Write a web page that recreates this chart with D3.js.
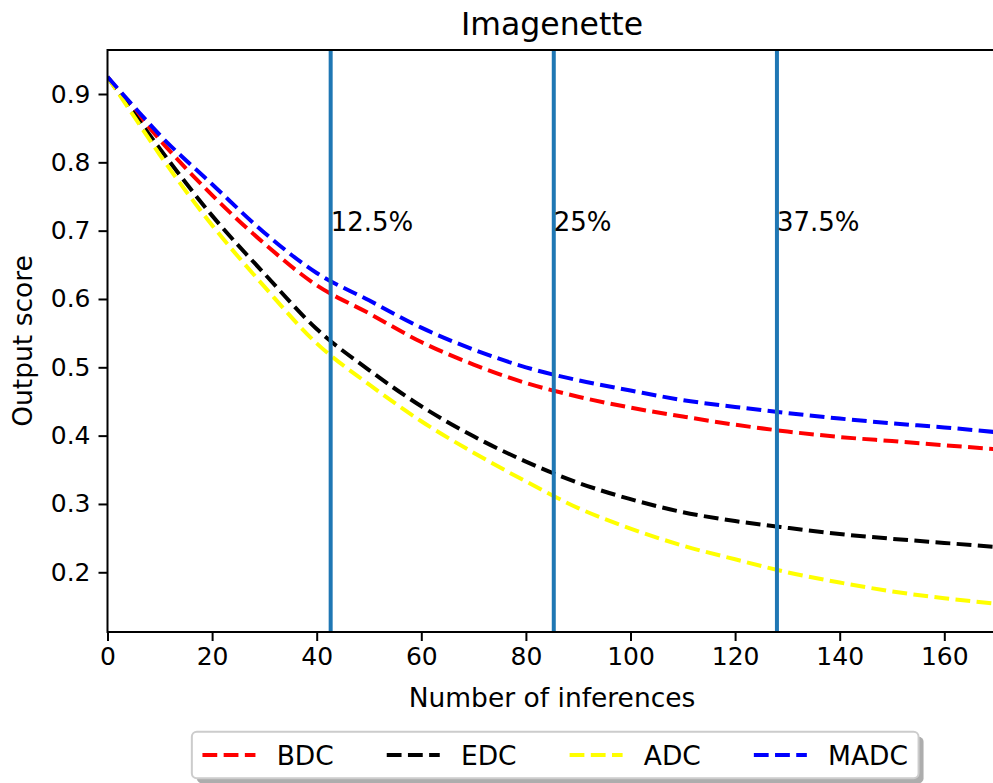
<!DOCTYPE html>
<html>
<head>
<meta charset="utf-8">
<script src="https://cdn.jsdelivr.net/npm/d3@7.9.0/dist/d3.min.js"></script>
<style>
  body { margin: 0; background: #fff; }
  text { font-family: "DejaVu Sans", sans-serif; fill: #000; }
</style>
</head>
<body>
<svg id="chart"></svg>
<script>
// sampled x positions (number of inferences)
const inferences = [0, 5, 10, 20, 30, 40, 50, 60, 70, 80, 90, 100, 110, 120, 130, 140, 150, 160, 170];

const bdc  = [0.925, 0.878, 0.833, 0.752, 0.681, 0.620, 0.579, 0.537, 0.504, 0.477, 0.457, 0.441, 0.428, 0.416, 0.406, 0.398, 0.392, 0.386, 0.380];
const edc  = [0.925, 0.872, 0.820, 0.722, 0.637, 0.556, 0.496, 0.443, 0.399, 0.362, 0.331, 0.307, 0.288, 0.275, 0.265, 0.256, 0.249, 0.243, 0.237];
const adc  = [0.925, 0.868, 0.811, 0.708, 0.618, 0.535, 0.475, 0.421, 0.375, 0.333, 0.294, 0.264, 0.239, 0.219, 0.200, 0.185, 0.172, 0.162, 0.154];
const madc = [0.925, 0.882, 0.840, 0.768, 0.697, 0.638, 0.598, 0.558, 0.526, 0.500, 0.481, 0.466, 0.452, 0.442, 0.433, 0.425, 0.418, 0.412, 0.405];

const seriesNames  = ["BDC", "EDC", "ADC", "MADC"];
const seriesColors = ["#ff0000", "#000000", "#ffff00", "#0000ff"];

const cutPoints = [42.67, 85.33, 128];
const cutLabels = ["12.5%", "25%", "37.5%"];

const xTicks = [0, 20, 40, 60, 80, 100, 120, 140, 160];
const yTicks = [0.2, 0.3, 0.4, 0.5, 0.6, 0.7, 0.8, 0.9];

const W = 993, H = 783;
const plotL = 107.5, plotT = 50, plotB = 632, plotR = 996.6;

const svg = d3.select("#chart").attr("width", W).attr("height", H);

const x = d3.scaleLinear().domain([0, 170]).range([plotL, plotR]);
const y = d3.scaleLinear().domain([0.1126, 0.9644]).range([plotB, plotT]);

svg.append("clipPath").attr("id", "plot-clip")
  .append("rect")
  .attr("x", plotL).attr("y", plotT)
  .attr("width", plotR - plotL).attr("height", plotB - plotT);

const plot = svg.append("g").attr("clip-path", "url(#plot-clip)");

const line = d3.line()
  .x(d => x(d[0]))
  .y(d => y(d[1]))
  .curve(d3.curveMonotoneX);

[bdc, edc, adc, madc].forEach((vals, i) => {
  plot.append("path")
    .datum(inferences.map((v, j) => [v, vals[j]]))
    .attr("fill", "none")
    .attr("stroke", seriesColors[i])
    .attr("stroke-width", 4)
    .attr("stroke-dasharray", "14.8,6.4")
    .attr("d", line);
});

// cut-off markers
cutPoints.forEach((c, i) => {
  plot.append("line")
    .attr("x1", x(c)).attr("x2", x(c))
    .attr("y1", plotT).attr("y2", plotB)
    .attr("stroke", "#1f77b4")
    .attr("stroke-width", 4);
  svg.append("text")
    .attr("x", x(c))
    .attr("y", y(0.7))
    .attr("font-size", 26)
    .text(cutLabels[i]);
});

// axes
const xAxis = svg.append("g")
  .attr("transform", `translate(0,${plotB})`)
  .call(d3.axisBottom(x).tickValues(xTicks).tickSize(9).tickPadding(6).tickFormat(d3.format("d")));
const yAxis = svg.append("g")
  .attr("transform", `translate(${plotL},0)`)
  .call(d3.axisLeft(y).tickValues(yTicks).tickSize(9).tickPadding(8).tickFormat(d3.format(".1f")));

[xAxis, yAxis].forEach(a => {
  a.select(".domain").remove();
  a.selectAll(".tick line").attr("stroke", "#000").attr("stroke-width", 2);
  a.selectAll(".tick text").attr("font-size", 25).attr("font-family", "DejaVu Sans").attr("fill", "#000");
});
xAxis.selectAll(".tick text").attr("dy", "0.71em");

// spines
svg.append("path")
  .attr("d", `M${plotR},${plotT}H${plotL}V${plotB}H${plotR}`)
  .attr("fill", "none")
  .attr("stroke", "#000")
  .attr("stroke-width", 2);

// title and labels
svg.append("text")
  .attr("x", (plotL + plotR) / 2).attr("y", 35)
  .attr("text-anchor", "middle").attr("font-size", 31.5)
  .text("Imagenette");

svg.append("text")
  .attr("x", (plotL + plotR) / 2).attr("y", 706.5)
  .attr("text-anchor", "middle").attr("font-size", 26.5)
  .text("Number of inferences");

svg.append("text")
  .attr("transform", `translate(22.5,${(plotT + plotB) / 2}) rotate(-90)`)
  .attr("text-anchor", "middle").attr("dy", "0.35em").attr("font-size", 26.5)
  .text("Output score");

// legend
const fs = 26.5, pad = 0.4 * fs, handleLen = 2 * fs, textPad = 0.8 * fs, colGap = 2 * fs;
const legend = svg.append("g");
const shadow = legend.append("rect");
const frame = legend.append("rect");
const items = legend.append("g");

let cx = 0;
seriesNames.forEach((name, i) => {
  items.append("line")
    .attr("x1", cx).attr("x2", cx + handleLen)
    .attr("y1", 0).attr("y2", 0)
    .attr("stroke", seriesColors[i])
    .attr("stroke-width", 4)
    .attr("stroke-dasharray", "14.8,6.4");
  const t = items.append("text")
    .attr("x", cx + handleLen + textPad)
    .attr("dy", "0.36em")
    .attr("font-size", fs)
    .text(name);
  cx += handleLen + textPad + t.node().getComputedTextLength();
  if (i < seriesNames.length - 1) cx += colGap;
});

const boxW = cx + 2 * pad, boxTop = 731.7, boxH = 46.6;
const boxLeft = 555.2 - boxW / 2;
items.attr("transform", `translate(${boxLeft + pad},${boxTop + boxH / 2})`);
shadow.attr("x", boxLeft + 5).attr("y", boxTop + 5)
  .attr("width", boxW).attr("height", boxH).attr("rx", 5)
  .attr("fill", "#777").attr("opacity", 0.6);
frame.attr("x", boxLeft).attr("y", boxTop)
  .attr("width", boxW).attr("height", boxH).attr("rx", 5)
  .attr("fill", "#fff").attr("stroke", "#ccc").attr("stroke-width", 2);
</script>
</body>
</html>
